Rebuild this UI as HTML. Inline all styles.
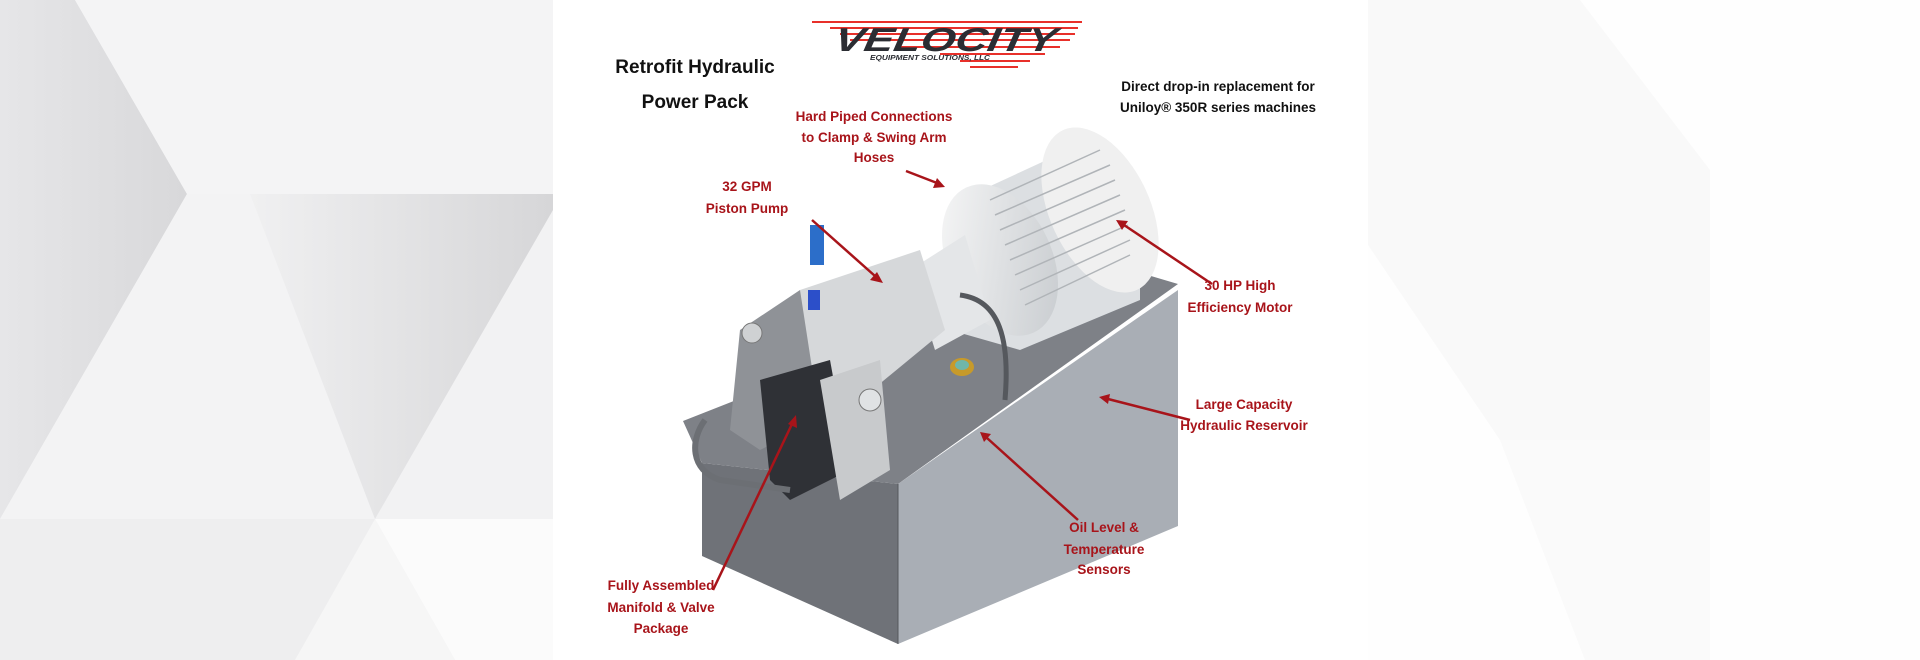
<!DOCTYPE html>
<html><head><meta charset="utf-8"><style>
html,body{margin:0;padding:0;width:1920px;height:660px;overflow:hidden;background:#fff}
svg{display:block}
text{font-family:"Liberation Sans",sans-serif;font-weight:bold}
</style></head><body>
<svg width="1920" height="660" viewBox="0 0 1920 660" xmlns="http://www.w3.org/2000/svg">
<defs>
<linearGradient id="g1" x1="0" x2="1"><stop offset="0" stop-color="#e6e6e8"/><stop offset="1" stop-color="#d8d8da"/></linearGradient>
<linearGradient id="g2" x1="0" x2="1"><stop offset="0" stop-color="#f0f0f1"/><stop offset="1" stop-color="#d6d6d8"/></linearGradient>
<linearGradient id="mot" x1="0" y1="0" x2="1" y2="1"><stop offset="0" stop-color="#fafafa"/><stop offset="1" stop-color="#c4c8cc"/></linearGradient>
</defs>
<!-- left background -->
<rect x="0" y="0" width="553" height="660" fill="#f2f2f3"/>
<polygon points="0,0 75,0 187,194 0,194" fill="url(#g1)"/>
<polygon points="75,0 553,0 553,194 187,194" fill="#f4f4f5"/>
<polygon points="0,194 187,194 0,519" fill="url(#g1)"/>
<polygon points="187,194 553,194 375,519 0,519" fill="#f3f3f4"/>
<polygon points="250,194 553,194 553,210 375,519" fill="url(#g2)"/>
<rect x="0" y="519" width="553" height="141" fill="#eeeeef"/>
<polygon points="375,519 553,519 553,660 455,660" fill="#fbfbfb"/>
<polygon points="375,519 455,660 295,660" fill="#f6f6f6"/>
<!-- right background -->
<rect x="1368" y="0" width="552" height="660" fill="#fefefe"/>
<polygon points="1368,0 1580,0 1710,170 1710,440 1500,440 1368,245" fill="#f9f9f9"/>
<polygon points="1500,440 1710,440 1710,660 1585,660" fill="#fafafa"/>
<!-- center -->
<rect x="553" y="0" width="815" height="660" fill="#fff"/>

<!-- logo -->
<g>
<g stroke="#e8302a" stroke-width="2">
<line x1="812" y1="22" x2="1082" y2="22"/><line x1="830" y1="28" x2="1078" y2="28"/>
<line x1="840" y1="34" x2="1075" y2="34"/><line x1="850" y1="40" x2="1070" y2="40"/>
<line x1="900" y1="47" x2="1060" y2="47"/><line x1="940" y1="54" x2="1045" y2="54"/>
<line x1="960" y1="61" x2="1030" y2="61"/><line x1="970" y1="67" x2="1018" y2="67"/>
</g>
<text x="944" y="51" text-anchor="middle" font-size="33" font-style="italic" fill="#2b2d33" font-weight="900" transform="skewX(-10) translate(9,0)" textLength="222" lengthAdjust="spacingAndGlyphs">VELOCITY</text>
<text x="930" y="60" text-anchor="middle" font-size="7" font-style="italic" fill="#2b2d33" textLength="120" lengthAdjust="spacingAndGlyphs">EQUIPMENT SOLUTIONS, LLC</text>
</g>

<text x="695" y="73" text-anchor="middle" font-size="19" fill="#111">Retrofit Hydraulic</text>
<text x="695" y="108" text-anchor="middle" font-size="19" fill="#111">Power Pack</text>
<text x="1218" y="91" text-anchor="middle" font-size="13.5" fill="#111">Direct drop-in replacement for</text>
<text x="1218" y="112" text-anchor="middle" font-size="13.5" fill="#111">Uniloy® 350R series machines</text>

<!-- machine -->
<g>
<polygon points="702,463 898,484 898,644 702,556" fill="#6f7278"/>
<polygon points="898,484 1178,290 1178,526 898,644" fill="#a9aeb5"/>
<polygon points="683,421 1094,259 1178,284 898,484 702,463" fill="#7e8187"/>
<line x1="898" y1="484" x2="898" y2="644" stroke="#55585d" stroke-width="1"/>
<!-- motor -->
<polygon points="960,200 1090,140 1140,190 1140,300 1020,350 950,330" fill="#dcdfe2"/>
<ellipse cx="1100" cy="210" rx="50" ry="88" transform="rotate(-25 1100 210)" fill="#f0f0f0"/>
<ellipse cx="1000" cy="260" rx="52" ry="80" transform="rotate(-25 1000 260)" fill="url(#mot)"/>
<g stroke="#b0b4b8" stroke-width="1.5">
<line x1="990" y1="200" x2="1100" y2="150"/><line x1="995" y1="215" x2="1110" y2="165"/>
<line x1="1000" y1="230" x2="1115" y2="180"/><line x1="1005" y1="245" x2="1120" y2="195"/>
<line x1="1010" y1="260" x2="1125" y2="210"/><line x1="1015" y1="275" x2="1128" y2="225"/>
<line x1="1020" y1="290" x2="1130" y2="240"/><line x1="1025" y1="305" x2="1130" y2="255"/>
</g>
<polygon points="910,270 965,235 990,320 935,350" fill="#e4e6e8"/>
<!-- pump & valve block -->
<polygon points="800,290 920,250 945,330 860,400 800,380" fill="#d6d8da"/>
<polygon points="740,330 800,290 820,420 760,450 730,430" fill="#8f9297"/>
<polygon points="760,380 830,360 850,470 790,500 770,480" fill="#2f3136"/>
<polygon points="820,380 880,360 890,470 840,500" fill="#c8cacc"/>
<rect x="810" y="225" width="14" height="40" fill="#2c6ec9"/>
<rect x="808" y="290" width="12" height="20" fill="#2c4fc9"/>
<circle cx="752" cy="333" r="10" fill="#cfd1d3" stroke="#777"/>
<circle cx="870" cy="400" r="11" fill="#e0e2e4" stroke="#777"/>
<ellipse cx="962" cy="367" rx="12" ry="9" fill="#c79a2a"/>
<ellipse cx="962" cy="365" rx="7" ry="5" fill="#6fb6a8"/>
<path d="M705,420 C690,440 690,470 720,480 L790,490" stroke="#6c6f74" stroke-width="6" fill="none"/>
<path d="M960,295 C1000,300 1010,340 1005,400" stroke="#55585d" stroke-width="5" fill="none"/>
</g>

<!-- red labels -->
<g fill="#a8141a" font-size="13.5" text-anchor="middle">
<text x="874" y="121">Hard Piped Connections</text>
<text x="874" y="142">to Clamp &amp; Swing Arm</text>
<text x="874" y="162">Hoses</text>
<text x="747" y="191">32 GPM</text>
<text x="747" y="213">Piston Pump</text>
<text x="1240" y="290">30 HP High</text>
<text x="1240" y="312">Efficiency Motor</text>
<text x="1244" y="409">Large Capacity</text>
<text x="1244" y="430">Hydraulic Reservoir</text>
<text x="1104" y="532">Oil Level &amp;</text>
<text x="1104" y="554">Temperature</text>
<text x="1104" y="574">Sensors</text>
<text x="661" y="590">Fully Assembled</text>
<text x="661" y="612">Manifold  &amp; Valve</text>
<text x="661" y="633">Package</text>
</g>
<!-- arrows -->
<g stroke="#a8141a" stroke-width="2.5" fill="#a8141a">
<line x1="906" y1="171" x2="937" y2="183"/><polygon points="945,187 933,188 937,178" stroke="none"/>
<line x1="812" y1="220" x2="875" y2="276"/><polygon points="883,283 870,280 877,272" stroke="none"/>
<line x1="1212" y1="284" x2="1124" y2="225"/><polygon points="1116,220 1128,221 1122,230" stroke="none"/>
<line x1="1190" y1="420" x2="1108" y2="399"/><polygon points="1099,397 1110,394 1108,404" stroke="none"/>
<line x1="1078" y1="520" x2="987" y2="438"/><polygon points="980,432 991,434 984,442" stroke="none"/>
<line x1="713" y1="590" x2="792" y2="424"/><polygon points="796,415 797,428 788,424" stroke="none"/>
</g>
</svg>
</body></html>
